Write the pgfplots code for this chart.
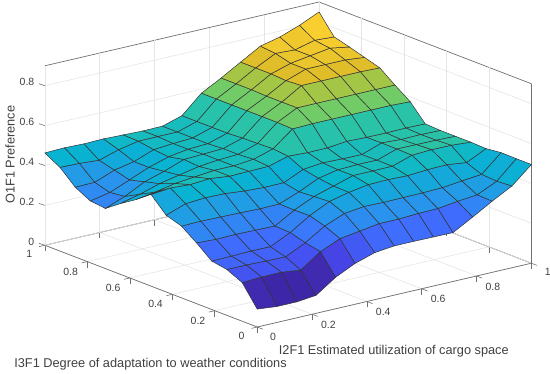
\documentclass[border=0pt]{standalone}
\usepackage{fontspec}
\setmainfont{Liberation Sans}
\usepackage{pgfplots}
\pgfplotsset{compat=1.18}
\definecolor{txt}{HTML}{404040}
\definecolor{axc}{HTML}{707070}
\begin{document}
\begin{tikzpicture}
\begin{axis}[
 x={(275pt,64pt)}, y={(-213pt,82pt)}, z={(0pt,200pt)},
 xmin=0,xmax=1,ymin=0,ymax=1,zmin=0,zmax=0.9,
 clip=false,
 grid=major, major grid style={black!10,line width=.6pt},
 axis line style={axc,line width=.7pt},
 tick style={axc,line width=.6pt},
 xtick pos=left,ytick pos=left,ztick pos=left,
 tick align=outside,major tick length=6pt,
 ztick style={draw=none},
 xtick={0,0.2,0.4,0.6,0.8,1},xticklabels={0,0.2,0.4,0.6,0.8,\makebox[0pt]{\kern 2pt\raisebox{-4pt}{1}}},
 ytick={0,0.2,0.4,0.6,0.8,1},yticklabels={0,0.2,0.4,0.6,0.8,1},
 ztick={0,0.2,0.4,0.6,0.8},zticklabels={0,0.2,0.4,0.6,0.8},
 tick label style={font=\fontsize{10.5}{12}\selectfont,text=txt},
 xticklabel style={xshift=5pt,yshift=0pt},
 yticklabel style={xshift=-4pt},
 zticklabel style={xshift=-1.5pt,yshift=1pt},
 colormap={parula}{rgb=(.2422,.1504,.6603) rgb=(.2803,.2782,.9221) rgb=(.2440,.4358,.9988) rgb=(.1540,.5902,.9218) rgb=(.0297,.7082,.8163) rgb=(.1938,.7758,.6251) rgb=(.5044,.7993,.3480) rgb=(.8634,.7406,.1596) rgb=(.9892,.8136,.1885) rgb=(.9769,.9839,.0805)},
 point meta min=0.08, point meta max=0.855,
]
\addplot3[surf,shader=flat corner,draw=black!80,line width=.5pt,z buffer=sort,mesh/rows=15,mesh/cols=15] coordinates {
(0,0,.09)(.071,0,.08)(.143,0,.08)(.214,0,.09)(.286,0,.158)(.357,0,.205)(.429,0,.236)(.5,0,.247)(.571,0,.247)(.643,0,.246)(.714,0,.245)(.786,0,.30)(.857,0,.357)(.929,0,.41)(1,0,.495)

(0,.071,.194)(.071,.071,.199)(.143,.071,.2)(.214,.071,.188)(.286,.071,.258)(.357,.071,.30)(.429,.071,.315)(.5,.071,.33)(.571,.071,.33)(.643,.071,.335)(.714,.071,.337)(.786,.071,.35)(.857,.071,.36)(.929,.071,.405)(1,.071,.495)

(0,.143,.23)(.071,.143,.23)(.143,.143,.227)(.214,.143,.225)(.286,.143,.273)(.357,.143,.334)(.429,.143,.374)(.5,.143,.386)(.571,.143,.384)(.643,.143,.385)(.714,.143,.386)(.786,.143,.389)(.857,.143,.40)(.929,.143,.41)(1,.143,.496)

(0,.214,.243)(.071,.214,.245)(.143,.214,.248)(.214,.214,.247)(.286,.214,.295)(.357,.214,.357)(.429,.214,.405)(.5,.214,.428)(.571,.214,.444)(.643,.214,.446)(.714,.214,.443)(.786,.214,.45)(.857,.214,.452)(.929,.214,.44)(1,.214,.487)

(0,.286,.305)(.071,.286,.30)(.143,.286,.302)(.214,.286,.30)(.286,.286,.298)(.357,.286,.355)(.429,.286,.40)(.5,.286,.43)(.571,.286,.46)(.643,.286,.46)(.714,.286,.461)(.786,.286,.493)(.857,.286,.498)(.929,.286,.497)(1,.286,.49)

(0,.357,.36)(.071,.357,.362)(.143,.357,.36)(.214,.357,.358)(.286,.357,.355)(.357,.357,.357)(.429,.357,.395)(.5,.357,.44)(.571,.357,.46)(.643,.357,.463)(.714,.357,.462)(.786,.357,.495)(.857,.357,.494)(.929,.357,.493)(1,.357,.49)

(0,.429,.385)(.071,.429,.42)(.143,.429,.427)(.214,.429,.425)(.286,.429,.415)(.357,.429,.41)(.429,.429,.411)(.5,.429,.455)(.571,.429,.465)(.643,.429,.462)(.714,.429,.461)(.786,.429,.496)(.857,.429,.49)(.929,.429,.492)(1,.429,.49)

(0,.5,.46)(.071,.5,.47)(.143,.5,.464)(.214,.5,.471)(.286,.5,.46)(.357,.5,.462)(.429,.5,.464)(.5,.5,.492)(.571,.5,.487)(.643,.5,.488)(.714,.5,.498)(.786,.5,.495)(.857,.5,.494)(.929,.5,.496)(1,.5,.494)

(0,.571,.405)(.071,.571,.42)(.143,.571,.44)(.214,.571,.45)(.286,.571,.46)(.357,.571,.46)(.429,.571,.47)(.5,.571,.50)(.571,.571,.577)(.643,.571,.58)(.714,.571,.58)(.786,.571,.58)(.857,.571,.58)(.929,.571,.58)(1,.571,.576)

(0,.643,.356)(.071,.643,.38)(.143,.643,.41)(.214,.643,.43)(.286,.643,.45)(.357,.643,.46)(.429,.643,.465)(.5,.643,.497)(.571,.643,.58)(.643,.643,.63)(.714,.643,.63)(.786,.643,.63)(.857,.643,.63)(.929,.643,.63)(1,.643,.63)

(0,.714,.302)(.071,.714,.34)(.143,.714,.39)(.214,.714,.42)(.286,.714,.456)(.357,.714,.46)(.429,.714,.465)(.5,.714,.495)(.571,.714,.58)(.643,.714,.63)(.714,.714,.69)(.786,.714,.69)(.857,.714,.69)(.929,.714,.69)(1,.714,.687)

(0,.786,.31)(.071,.786,.33)(.143,.786,.37)(.214,.786,.41)(.286,.786,.44)(.357,.786,.455)(.429,.786,.46)(.5,.786,.49)(.571,.786,.58)(.643,.786,.63)(.714,.786,.685)(.786,.786,.72)(.857,.786,.72)(.929,.786,.72)(1,.786,.71)

(0,.857,.35)(.071,.857,.352)(.143,.857,.39)(.214,.857,.41)(.286,.857,.447)(.357,.857,.455)(.429,.857,.46)(.5,.857,.49)(.571,.857,.58)(.643,.857,.633)(.714,.857,.69)(.786,.857,.72)(.857,.857,.735)(.929,.857,.75)(1,.857,.733)

(0,.929,.42)(.071,.929,.417)(.143,.929,.41)(.214,.929,.44)(.286,.929,.46)(.357,.929,.46)(.429,.929,.46)(.5,.929,.49)(.571,.929,.58)(.643,.929,.633)(.714,.929,.69)(.786,.929,.74)(.857,.929,.735)(.929,.929,.76)(1,.929,.754)

(0,1,.463)(.071,1,.466)(.143,1,.463)(.214,1,.465)(.286,1,.462)(.357,1,.459)(.429,1,.46)(.5,1,.49)(.571,1,.58)(.643,1,.633)(.714,1,.69)(.786,1,.747)(.857,1,.77)(.929,1,.806)(1,1,.85)
};
\coordinate (TL) at ([shift={(-258pt,328pt)}]axis cs:0,0,0);
\path ([shift={(0pt,0pt)}]TL) rectangle ([shift={(550pt,-375pt)}]TL);
\foreach \zz in {0,0.2,0.4,0.6,0.8} {
 \edef\tmp{\noexpand\draw[axc,line width=.6pt] (axis cs:0,1,\zz) -- ++(-6pt,2pt);}
 \tmp
}
\node[text=txt,rotate=90,font=\fontsize{12.8}{14}\selectfont] at ([shift={(10pt,-155pt)}]TL) {O1F1 Preference};
\node[text=txt,font=\fontsize{12.8}{14}\selectfont] at ([shift={(395pt,-352pt)}]TL) {I2F1 Estimated utilization of cargo space};
\node[text=txt,font=\fontsize{12.8}{14}\selectfont] at ([shift={(151pt,-365pt)}]TL) {I3F1 Degree of adaptation to weather conditions};
\end{axis}
\end{tikzpicture}
\end{document}
